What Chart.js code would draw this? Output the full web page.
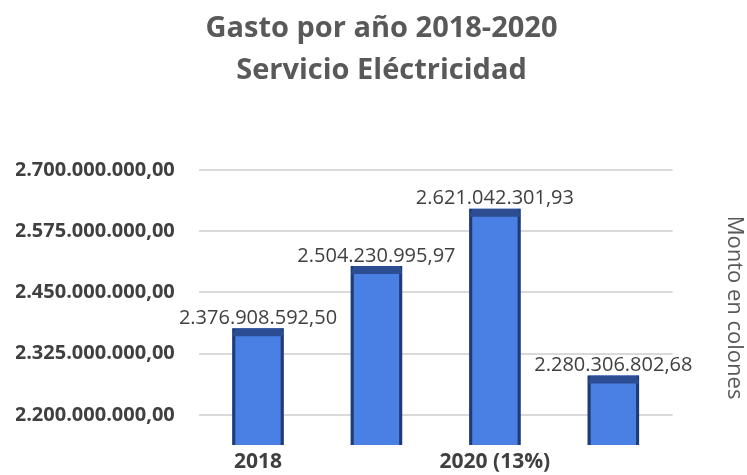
<!DOCTYPE html>
<html>
<head>
<meta charset="utf-8">
<script src="https://cdn.jsdelivr.net/npm/chart.js@4/dist/chart.umd.min.js"></script>
<style>
  html, body { margin: 0; padding: 0; background: #ffffff; overflow: hidden; }
  #wrap { width: 747px; height: 481px; position: relative; }
</style>
</head>
<body>
<div id="wrap"><canvas id="chart"></canvas></div>
<script>
// Chart data
const categories = ['2018', '', '2020 (13%)', ''];
const montos = [2376908592.50, 2504230995.97, 2621042301.93, 2280306802.68];
const yTicks = [2200000000, 2325000000, 2450000000, 2575000000, 2700000000];
const titleLines = ['Gasto por año 2018-2020', 'Servicio Eléctricidad'];
const yTitle = 'Monto en colones';

// 2.376.908.592,50 style
function formatColones(v) {
    const parts = v.toFixed(2).split('.');
    const ent = parts[0].replace(/\B(?=(\d{3})+(?!\d))/g, '.');
    return ent + ',' + parts[1];
}

// Fake 3D look + value labels on top of the bars
const barExtras = {
    id: 'barExtras',
    afterDatasetsDraw(chart) {
        const ctx = chart.ctx;
        const meta = chart.getDatasetMeta(0);
        const floor = chart.chartArea.bottom;
        meta.data.forEach((bar, i) => {
            const left = bar.x - bar.width / 2;
            const right = bar.x + bar.width / 2;
            const top = bar.y;
            ctx.save();
            // dark edges
            ctx.fillStyle = '#203a74';
            ctx.fillRect(left, top, 3, floor - top);
            ctx.fillRect(right - 3, top, 3, floor - top);
            // top face
            ctx.fillStyle = '#2c4d92';
            ctx.beginPath();
            ctx.moveTo(left + 3, top);
            ctx.lineTo(right - 2, top);
            ctx.lineTo(right, top + 8);
            ctx.lineTo(left, top + 8);
            ctx.closePath();
            ctx.fill();
            // value label
            ctx.fillStyle = '#404040';
            ctx.font = '20px "Open Sans"';
            ctx.textAlign = 'center';
            ctx.textBaseline = 'bottom';
            ctx.fillText(formatColones(montos[i]), bar.x, top);
            ctx.restore();
        });
    }
};

const ctx = document.getElementById('chart').getContext('2d');
const chart = new Chart(ctx, {
    type: 'bar',
    data: {
        labels: categories,
        datasets: [{
            data: montos,
            backgroundColor: '#4a7fe3',
            borderWidth: 0,
            barPercentage: 0.62,
            categoryPercentage: 0.7
        }]
    },
    options: {
        responsive: true,
        maintainAspectRatio: false,
        animation: false,
        layout: {
            padding: { left: 16, right: 0, top: 4, bottom: 0 }
        },
        plugins: {
            legend: { display: false },
            tooltip: { enabled: false },
            title: {
                display: true,
                text: titleLines,
                color: '#595959',
                font: { family: 'Open Sans', size: 29, weight: 'bold', lineHeight: 1.45 },
                padding: { top: 4, bottom: 78 }
            }
        },
        scales: {
            x: {
                grid: { display: false, drawTicks: false },
                border: { display: false },
                ticks: {
                    color: '#404040',
                    font: { family: 'Open Sans', size: 21, weight: 'bold' },
                    padding: 4,
                    maxRotation: 0,
                    autoSkip: false
                }
            },
            y: {
                min: 2138500000,
                max: 2700000000,
                afterBuildTicks: (scale) => {
                    scale.ticks = yTicks.map(v => ({ value: v }));
                },
                grid: { color: '#d9d9d9', lineWidth: 2, drawTicks: false },
                border: { display: false },
                ticks: {
                    color: '#404040',
                    font: { family: 'Open Sans', size: 20, weight: 'bold' },
                    padding: 24,
                    callback: (v) => formatColones(v)
                }
            },
            y2: {
                position: 'right',
                min: 0,
                max: 1,
                grid: { display: false },
                border: { display: false },
                ticks: { display: false },
                title: {
                    display: true,
                    text: yTitle,
                    color: '#595959',
                    font: { family: 'Open Sans', size: 22 },
                    padding: { top: 0, bottom: 40 }
                }
            }
        }
    },
    plugins: [barExtras]
});
</script>
</body>
</html>
